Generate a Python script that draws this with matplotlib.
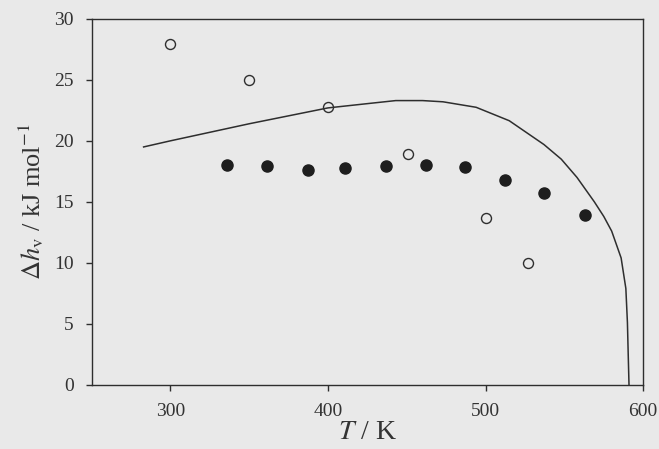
import matplotlib
matplotlib.use("Agg")
import matplotlib.pyplot as plt

# open circles
open_T = [300, 350, 400, 451, 500, 527]
open_h = [27.9, 25.0, 22.8, 18.9, 13.7, 10.0]

# filled circles
fill_T = [336, 361, 387, 411, 437, 462, 487, 512, 537, 563]
fill_h = [18.0, 17.9, 17.6, 17.8, 17.9, 18.0, 17.85, 16.8, 15.7, 13.9]

# model curve
curve_T = [283, 300, 350, 400, 425, 443, 460, 473, 494, 515, 537, 548, 558, 569, 575, 580, 586, 589, 590, 590.5, 591]
curve_h = [19.5, 20.0, 21.4, 22.7, 23.05, 23.3, 23.3, 23.2, 22.75, 21.65, 19.7, 18.5, 17.0, 15.0, 13.8, 12.6, 10.4, 7.9, 5.1, 2.5, 0.0]

plt.rcParams["font.family"] = ["Liberation Serif", "DejaVu Serif"]
plt.rcParams["mathtext.fontset"] = "stix"

bg = "#e9e9e9"
ink = "#2e2e2e"

fig = plt.figure(figsize=(6.59, 4.49), dpi=100, facecolor=bg)
ax = fig.add_axes([0.139, 0.143, 0.837, 0.815], facecolor=bg)

ax.plot(curve_T, curve_h, color=ink, lw=1.1)
ax.plot(open_T, open_h, "o", ms=7.2, mfc="none", mec=ink, mew=1.0)
ax.plot(fill_T, fill_h, "o", ms=8, mfc="#1e1e1e", mec="#1e1e1e")

ax.set_xlim(250, 600)
ax.set_ylim(0, 30)
ax.set_xticks([300, 400, 500, 600])
ax.set_yticks(range(0, 31, 5))

for s in ax.spines.values():
    s.set_color(ink)
    s.set_linewidth(1.0)

ax.tick_params(axis="both", direction="out", length=4, width=1.0, color=ink,
               labelsize=14, labelcolor="#333333")
ax.tick_params(axis="x", pad=9)
ax.tick_params(axis="y", pad=9)

ax.set_xlabel("$T$ / K", fontsize=20, color="#333333", labelpad=0)
ax.set_ylabel(r"$\Delta h_{\mathrm{v}}$ / kJ mol$^{-1}$", fontsize=19, color="#333333", labelpad=6)

fig.savefig("out.png", dpi=100, facecolor=bg)
